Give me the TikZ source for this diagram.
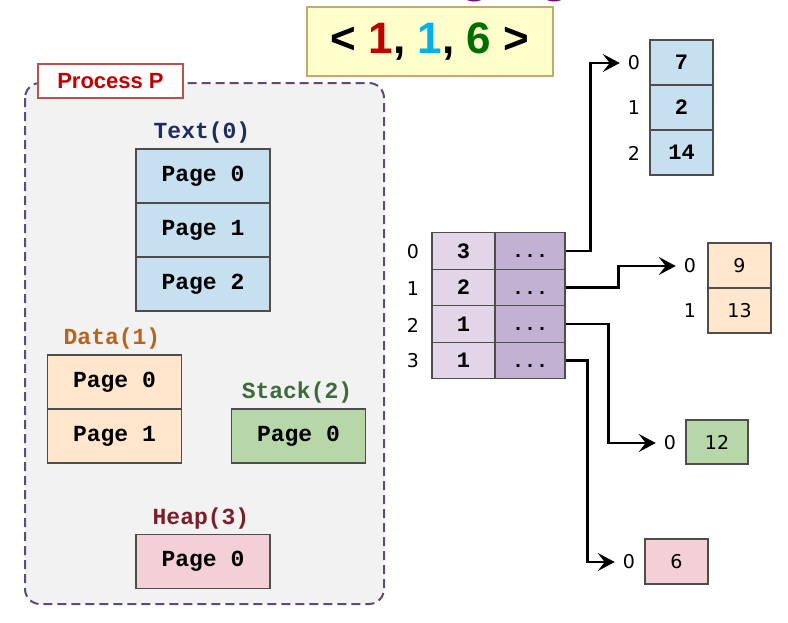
\documentclass[tikz,border=0pt]{standalone}
\usepackage{fontspec}
\setmainfont{Liberation Sans}
\newfontfamily\cour{Liberation Mono}
\newfontfamily\dejavu{DejaVu Sans}
\usetikzlibrary{arrows.meta}
\definecolor{tblue}{HTML}{C6E0F0}
\definecolor{torange}{HTML}{FFE6CC}
\definecolor{tgreen}{HTML}{B7D7A8}
\definecolor{tpink}{HTML}{F2D0D5}
\definecolor{plight}{HTML}{E1D5E7}
\definecolor{pdark}{HTML}{C3B1D3}
\definecolor{cellborder}{HTML}{4D4D4D}
\definecolor{ttlfill}{HTML}{FFFFCC}
\definecolor{ttlborder}{HTML}{C9A66B}
\definecolor{procfill}{HTML}{F2F2F2}
\definecolor{procborder}{HTML}{5E4B7C}
\definecolor{lblred}{HTML}{B85450}
\definecolor{cred}{HTML}{C00000}
\definecolor{ccyan}{HTML}{00B0F0}
\definecolor{cgreen}{HTML}{006F00}
\definecolor{ctext}{HTML}{1C2D5E}
\definecolor{cdata}{HTML}{B5651D}
\definecolor{cstack}{HTML}{3D6B3A}
\definecolor{cheap}{HTML}{7A1E2A}
\definecolor{ctitle}{HTML}{7A0A7A}
\begin{document}
\begin{tikzpicture}[x=1pt,y=-1pt,
  cell/.style={draw=cellborder,line width=1.2pt,inner sep=0pt,anchor=center},
  pagecell/.style={cell,minimum width=134pt,minimum height=54pt,font=\cour\bfseries\fontsize{23}{23}\selectfont},
  segtitle/.style={font=\cour\bfseries\fontsize{23}{23}\selectfont,inner sep=0pt},
  ptcell/.style={cell,minimum height=36.5pt,font=\cour\bfseries\fontsize{22}{22}\selectfont},
  dots/.style={ptcell,fill=pdark,minimum width=70pt,font=\cour\bfseries\fontsize{20}{20}\selectfont},
  frame/.style={cell,minimum width=63pt,minimum height=45pt,font=\cour\bfseries\fontsize{22}{22}\selectfont},
  frame2/.style={cell,minimum width=63pt,minimum height=45pt,font=\dejavu\fontsize{19}{19}\selectfont},
  idx/.style={font=\dejavu\fontsize{19}{19}\selectfont,inner sep=1pt},
  arr/.style={line width=2.6pt,-{Stealth[length=17pt,width=18pt,inset=7pt]}}
]
\useasboundingbox (0,0) rectangle (788,622);
% clipped title
\begin{scope}
\clip (0,0) rectangle (788,622);
\node[anchor=base west,text=ctitle,font=\fontsize{60}{60}\selectfont,inner sep=0pt] (ttl) at (385,-11) {Paging};
\end{scope}
% address box
\node[draw=ttlborder,line width=1.5pt,fill=ttlfill,minimum width=246pt,minimum height=69pt,font=\bfseries\fontsize{44}{44}\selectfont] (addr) at (430,41.5)
  {<\ \textcolor{cred}{1}, \textcolor{ccyan}{1}, \textcolor{cgreen}{6}\ >};
% process container
\draw[procborder,line width=2pt,dash pattern=on 9pt off 5pt,fill=procfill,rounded corners=15pt] (25,83) rectangle (384,604);
\node[draw=lblred,line width=1.2pt,fill=white,minimum width=145pt,minimum height=34pt,text=cred,font=\bfseries\fontsize{22}{22}\selectfont] (pp) at (110.5,81) {Process P};
% Text segment
\node[segtitle,text=ctext] (ttext) at (202,133) {Text(0)};
\node[pagecell,fill=tblue] (tp0) at (203,176) {Page 0};
\node[pagecell,fill=tblue] (tp1) at (203,230) {Page 1};
\node[pagecell,fill=tblue] (tp2) at (203,284) {Page 2};
% Data segment
\node[segtitle,text=cdata] (tdata) at (112,339) {Data(1)};
\node[pagecell,fill=torange] (dp0) at (114.5,382) {Page 0};
\node[pagecell,fill=torange] (dp1) at (114.5,436) {Page 1};
% Stack segment
\node[segtitle,text=cstack] (tstack) at (297,393) {Stack(2)};
\node[pagecell,fill=tgreen] (sp0) at (298.5,436) {Page 0};
% Heap segment
\node[segtitle,text=cheap] (theap) at (201,519) {Heap(3)};
\node[pagecell,fill=tpink] (hp0) at (203,561.5) {Page 0};
% segment table
\node[ptcell,fill=plight,minimum width=63pt] (pl0) at (463.5,251) {3};
\node[ptcell,fill=plight,minimum width=63pt] (pl1) at (463.5,287.5) {2};
\node[ptcell,fill=plight,minimum width=63pt] (pl2) at (463.5,324) {1};
\node[ptcell,fill=plight,minimum width=63pt] (pl3) at (463.5,360.5) {1};
\node[dots] (pr0) at (530,251) {\vphantom{1}...};
\node[dots] (pr1) at (530,287.5) {\vphantom{1}...};
\node[dots] (pr2) at (530,324) {\vphantom{1}...};
\node[dots] (pr3) at (530,360.5) {\vphantom{1}...};
\node[idx] (pi0) at (413,252) {0};
\node[idx] (pi1) at (413,289) {1};
\node[idx] (pi2) at (413,325) {2};
\node[idx] (pi3) at (413,361) {3};
% text frames
\node[frame,fill=tblue] (tf0) at (681.5,62.5) {7};
\node[frame,fill=tblue] (tf1) at (681.5,107.5) {2};
\node[frame,fill=tblue] (tf2) at (681.5,152.5) {14};
\node[idx] (ti0) at (634,63) {0};
\node[idx] (ti1) at (634,108) {1};
\node[idx] (ti2) at (634,153) {2};
% data frames
\node[frame2,fill=torange] (df0) at (739.5,265.5) {9};
\node[frame2,fill=torange] (df1) at (739.5,310.5) {13};
\node[idx] (di0) at (690,266) {0};
\node[idx] (di1) at (690,311) {1};
% stack frame
\node[frame2,fill=tgreen,minimum width=62pt,minimum height=44pt] (sf0) at (717,442) {12};
\node[idx] (si0) at (670,443) {0};
% heap frame
\node[frame2,fill=tpink] (hf0) at (676.5,561.5) {6};
\node[idx] (hi0) at (629,562) {0};
% connectors
\draw[arr] (pr0.east) -- ++(25,0) |- ([xshift=-7pt]ti0.west);
\draw[arr] (pr1.east) -- ++(53,0) |- ([xshift=-7pt]di0.west);
\draw[arr] (pr2.east) -- ++(43,0) |- ([xshift=-7pt]si0.west);
\draw[arr] (pr3.east) -- ++(22,0) |- ([xshift=-7pt]hi0.west);
\end{tikzpicture}
\end{document}
